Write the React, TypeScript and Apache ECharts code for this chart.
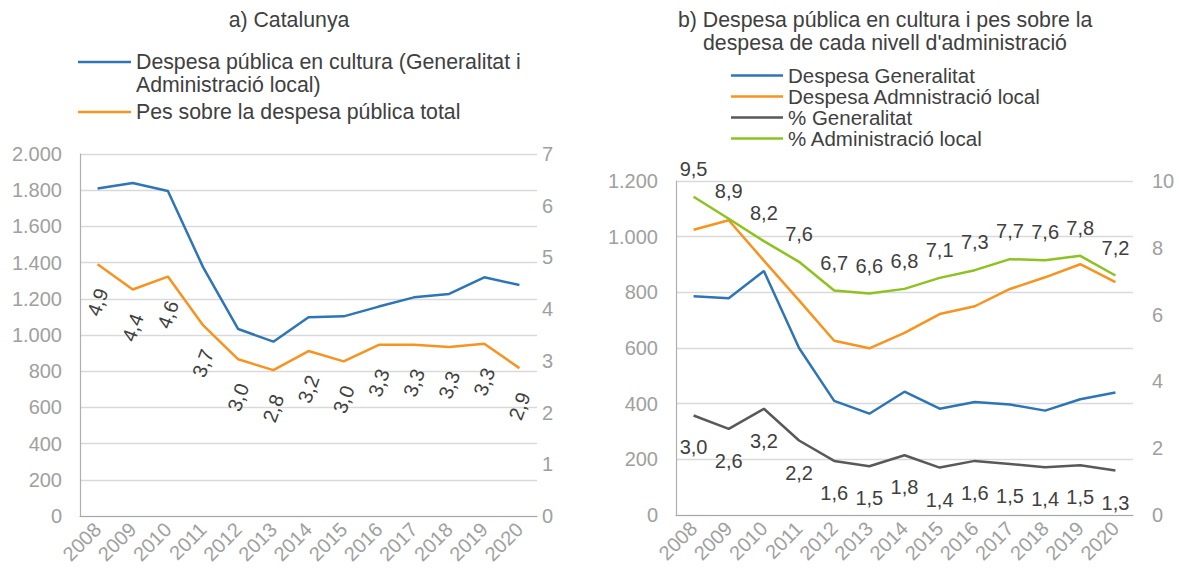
import React, { useEffect, useRef } from "react";
import * as echarts from "echarts";

const years = ["2008", "2009", "2010", "2011", "2012", "2013", "2014", "2015", "2016", "2017", "2018", "2019", "2020"];

// a) Catalunya
const catSpending = [1810, 1840, 1796, 1375, 1033, 963, 1098, 1103, 1157, 1208, 1227, 1319, 1276];
const catShare = [4.87, 4.38, 4.63, 3.69, 3.03, 2.82, 3.19, 2.99, 3.31, 3.31, 3.27, 3.33, 2.86];

// b) by administration level
const genSpending = [786, 779, 877, 600, 410, 364, 443, 382, 406, 397, 375, 416, 440];
const localSpending = [1025, 1059, 914, 771, 626, 599, 654, 722, 750, 812, 854, 901, 837];
const genPct = [2.98, 2.58, 3.18, 2.23, 1.62, 1.46, 1.79, 1.42, 1.62, 1.53, 1.43, 1.49, 1.33];
const localPct = [9.53, 8.87, 8.2, 7.58, 6.72, 6.63, 6.77, 7.1, 7.33, 7.66, 7.63, 7.76, 7.17];

const leftTicks = { min: 0, max: 2000, interval: 200 };
const leftTicks2 = { min: 0, max: 7, interval: 1 };
const rightTicks = { min: 0, max: 1200, interval: 200 };
const rightTicks2 = { min: 0, max: 10, interval: 2 };

const FONT = "'Liberation Sans', Arial, sans-serif";
const C_BLUE = "#2E75B6";
const C_ORANGE = "#F7931E";
const C_GRAY = "#595959";
const C_GREEN = "#8DC21F";
const C_TEXT = "#404040";
const C_AXIS = "#A0A0A0";
const FS = 20;
const FT = 21.3;

const fmtThousands = (v: number) =>
  v >= 1000 ? Math.floor(v / 1000) + "." + String(v % 1000).padStart(3, "0") : String(v);
const fmtDec = (p: any) => Number(p.value).toFixed(1).replace(".", ",");

export default function App() {
  const ref = useRef<HTMLDivElement>(null);
  useEffect(() => {
    if (!ref.current) return;
    const chart = echarts.init(ref.current, undefined, { renderer: "svg" });

    const xAxisBase = (gridIndex: number) => ({
      type: "category",
      gridIndex,
      data: years,
      boundaryGap: true,
      axisTick: { show: false },
      axisLine: { show: true, lineStyle: { color: "#A6A6A6", width: 1.2 } },
      axisLabel: { rotate: 45, color: C_AXIS, fontSize: FS, fontFamily: FONT, margin: 10, interval: 0 },
    });
    const yLeft = (gridIndex: number, t: any, fmt: any) => ({
      type: "value",
      gridIndex,
      position: "left",
      ...t,
      axisLine: { show: true, lineStyle: { color: "#B0B0B0", width: 1.2 } },
      axisTick: { show: false },
      splitLine: { show: true, lineStyle: { color: "#D9D9D9", width: 1.3 } },
      axisLabel: { color: C_AXIS, fontSize: FS, fontFamily: FONT, margin: 18, formatter: fmt },
    });
    const yRight = (gridIndex: number, t: any, margin: number) => ({
      type: "value",
      gridIndex,
      position: "right",
      ...t,
      axisLine: { show: false },
      axisTick: { show: false },
      splitLine: { show: false },
      axisLabel: { color: C_AXIS, fontSize: FS, fontFamily: FONT, margin },
    });

    const lineSeries = (name: string, data: any[], color: string, xi: number, yi: number, label?: any) => ({
      type: "line",
      name,
      data,
      xAxisIndex: xi,
      yAxisIndex: yi,
      symbol: "circle",
      symbolSize: 0,
      showSymbol: true,
      lineStyle: { color, width: 2.5 },
      itemStyle: { color },
      label: label || { show: false },
      emphasis: { disabled: true },
    });

    const option: any = {
      animation: false,
      textStyle: { fontFamily: FONT },
      grid: [
        { left: 80, right: 642, top: 154, bottom: 59 },
        { left: 676, right: 46, top: 181, bottom: 60 },
      ],
      xAxis: [xAxisBase(0), xAxisBase(1)],
      yAxis: [
        yLeft(0, leftTicks, fmtThousands),
        yRight(0, leftTicks2, 5),
        yLeft(1, rightTicks, fmtThousands),
        yRight(1, rightTicks2, 19),
      ],
      legend: {
        data: ["Despesa Generalitat", "Despesa Admnistració local", "% Generalitat", "% Administració local"],
        orient: "vertical",
        left: 731,
        top: 65,
        icon: "rect",
        itemWidth: 52,
        itemHeight: 2.5,
        itemGap: 0,
        padding: 0,
        textStyle: { fontSize: 20.5, color: C_TEXT, fontFamily: FONT },
      },
      graphic: [
        {
          type: "text",
          x: 289,
          y: 20,
          style: { text: "a) Catalunya", fill: C_TEXT, font: `${FT}px ${FONT}`, textAlign: "center", textVerticalAlign: "middle" },
        },
        { type: "line", shape: { x1: 78, y1: 62, x2: 131, y2: 62 }, style: { stroke: C_BLUE, lineWidth: 2.5 } },
        {
          type: "text",
          x: 136,
          y: 62,
          style: { text: "Despesa pública en cultura (Generalitat i", fill: C_TEXT, font: `${FT}px ${FONT}`, textVerticalAlign: "middle" },
        },
        {
          type: "text",
          x: 136,
          y: 85,
          style: { text: "Administració local)", fill: C_TEXT, font: `${FT}px ${FONT}`, textVerticalAlign: "middle" },
        },
        { type: "line", shape: { x1: 78, y1: 112, x2: 131, y2: 112 }, style: { stroke: C_ORANGE, lineWidth: 2.5 } },
        {
          type: "text",
          x: 136,
          y: 112,
          style: { text: "Pes sobre la despesa pública total", fill: C_TEXT, font: `${FT}px ${FONT}`, textVerticalAlign: "middle" },
        },
        {
          type: "text",
          x: 678,
          y: 20,
          style: { text: "b) Despesa pública en cultura i pes sobre la", fill: C_TEXT, font: `${FT}px ${FONT}`, textVerticalAlign: "middle" },
        },
        {
          type: "text",
          x: 703,
          y: 43,
          style: { text: "despesa de cada nivell d'administració", fill: C_TEXT, font: `${FT}px ${FONT}`, textVerticalAlign: "middle" },
        },
      ],
      series: [
        lineSeries("Despesa pública en cultura (Generalitat i Administració local)", catSpending, C_BLUE, 0, 0),
        lineSeries("Pes sobre la despesa pública total", catShare, C_ORANGE, 0, 1, {
          show: true,
          position: "bottom",
          distance: 38,
          rotate: 70,
          align: "center",
          verticalAlign: "middle",
          color: C_TEXT,
          fontSize: FS,
          fontFamily: FONT,
          formatter: fmtDec,
        }),
        lineSeries("Despesa Generalitat", genSpending, C_BLUE, 1, 2),
        lineSeries("Despesa Admnistració local", localSpending, C_ORANGE, 1, 2),
        lineSeries("% Generalitat", genPct, C_GRAY, 1, 3, {
          show: true,
          position: "bottom",
          distance: 22,
          color: C_TEXT,
          fontSize: FS,
          fontFamily: FONT,
          formatter: fmtDec,
        }),
        lineSeries("% Administració local", localPct, C_GREEN, 1, 3, {
          show: true,
          position: "top",
          distance: 18,
          color: C_TEXT,
          fontSize: FS,
          fontFamily: FONT,
          formatter: fmtDec,
        }),
      ],
    };
    chart.setOption(option);
    return () => chart.dispose();
  }, []);
  return (
    <div
      ref={ref}
      style={{ position: "fixed", left: 0, top: 0, width: 1179, height: 575, background: "#fff" }}
    />
  );
}
